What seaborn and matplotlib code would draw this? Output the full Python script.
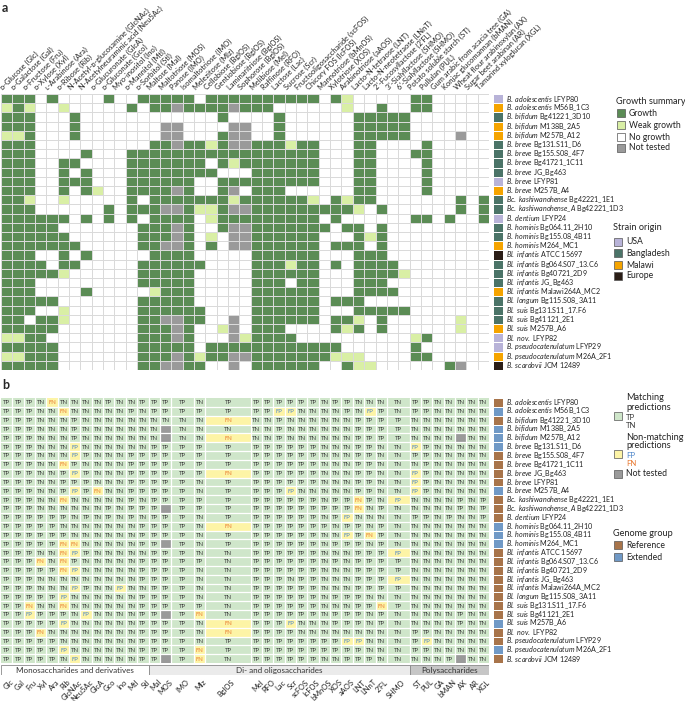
import numpy as np
import pandas as pd
import seaborn as sns
import matplotlib.pyplot as plt
from matplotlib.colors import ListedColormap
from matplotlib.patches import Rectangle

# ---------------- data ----------------
substrates = [
    "ᴅ-Glucose (Glc)", "ᴅ-Galactose (Gal)", "ᴅ-Fructose (Fru)", "ᴅ-Xylose (Xyl)",
    "ʟ-Arabinose (Ara)", "ᴅ-Ribose (Rib)", "N-Acetyl-ᴅ-glucosamine (GlcNAc)",
    "N-Acetylneuraminic acid (Neu5Ac)", "ᴅ-Glucuronate (GlcA)", "ᴅ-Gluconate (Gco)",
    "Myo-inositol (Ino)", "ᴅ-Mannitol (Mtl)", "ᴅ-Sorbitol (Stl)", "Maltose (Mal)",
    "Maltotriose (MOS)", "Panose (IMO)", "Isomaltotriose (IMO)", "Melezitose (Mlz)",
    "Cellobiose (BglOS)", "Gentiobiose (BglOS)", "Laminaritriose (BglOS)",
    "Sophorose (BglOS)", "Melibiose (Mel)", "Raffinose (RFO)", "Lactose (Lac)",
    "Sucrose (Scr)", "Fructooligosaccharide (scFOS)", "Chicory FOS (lcFOS)",
    "Mannotriose (bMnOS)", "Xylotriose (XOS)", "Arabinotriose (aAOS)",
    "Lacto-N-tetraose (LNT)", "Lacto-N-neotetraose (LNnT)", "2'-Fucosyllactose (2'FL)",
    "3'-Sialyllactose (SHMO)", "6'-Sialyllactose (SHMO)", "Potato soluble starch (ST)",
    "Pullulan (PUL)", "Gum arabic from acacia tree (GA)", "Konjac glucomannan (bMAN)",
    "Wheat flour arabinoxylan (AX)", "Sugar beet arabinan (AR)", "Tamarind xyloglucan (XGL)",
]
short_names = ["Glc", "Gal", "Fru", "Xyl", "Ara", "Rib", "GlcNAc", "Neu5Ac", "GlcA", "Gco",
               "Ino", "Mtl", "Stl", "Mal", "MOS", "IMO", "Mlz", "BglOS", "Mel", "RFO", "Lac",
               "Scr", "scFOS", "lcFOS", "bMnOS", "XOS", "aAOS", "LNT", "LNnT", "2'FL", "SHMO",
               "ST", "PUL", "GA", "bMAN", "AX", "AR", "XGL"]
# how many panel-a columns each panel-b column covers
span = [1] * 15 + [2, 1, 4] + [1] * 12 + [2] + [1] * 7
sugar_classes = ["Monosaccharides and derivatives", "Di- and oligosaccharides", "Polysaccharides"]
class_ncols = [13, 23, 7]

species = ["B. adolescentis", "B. adolescentis", "B. bifidum", "B. bifidum", "B. bifidum",
           "B. breve", "B. breve", "B. breve", "B. breve", "B. breve", "B. breve",
           "Bc. kashiwanohense", "Bc. kashiwanohense_A", "B. dentium", "B. hominis",
           "B. hominis", "B. hominis", "Bl. infantis", "Bl. infantis", "Bl. infantis",
           "Bl. infantis", "Bl. infantis", "Bl. longum", "Bl. suis", "Bl. suis", "Bl. suis",
           "Bl. nov.", "B. pseudocatenulatum", "B. pseudocatenulatum", "B. scardovii"]
strain = ["LFYP80", "M56B_1C3", "Bg41221_3D10", "M138B_2A5", "M257B_A12", "Bg131.S11_D6",
          "Bg155.S08_4F7", "Bg41721_1C11", "JG_Bg463", "LFYP81", "M257B_A4", "Bg42221_1E1",
          "Bg42221_1D3", "LFYP24", "Bg064.11_2H10", "Bg155.08_4B11", "M264_MC1", "ATCC 15697",
          "Bg064.S07_13.C6", "Bg40721_2D9", "JG_Bg463", "Malawi264A_MC2", "Bg115.S08_3A11",
          "Bg131.S11_17.F6", "Bg41121_2E1", "M257B_A6", "LFYP82", "LFYP29", "M26A_2F1",
          "JCM 12489"]
origin = ["USA", "Malawi", "Bangladesh", "Malawi", "Malawi", "Bangladesh", "Bangladesh",
          "Bangladesh", "Bangladesh", "USA", "Malawi", "Bangladesh", "Bangladesh", "USA",
          "Bangladesh", "Bangladesh", "Malawi", "Europe", "Bangladesh", "Bangladesh",
          "Bangladesh", "Malawi", "Bangladesh", "Bangladesh", "Bangladesh", "Malawi", "USA",
          "USA", "Malawi", "Europe"]
genome_group = ["Reference", "Extended", "Reference", "Extended", "Extended", "Extended",
                "Reference", "Reference", "Reference", "Reference", "Extended", "Reference",
                "Reference", "Reference", "Extended", "Extended", "Extended", "Reference",
                "Reference", "Reference", "Reference", "Reference", "Reference", "Reference",
                "Reference", "Extended", "Reference", "Reference", "Extended", "Reference"]

# growth summary: G growth, w weak growth, . no growth, x not tested
growth_rows = [
    "GGG.G....G..GGG GG . GGGG GGGGGG.Gw... .. GG.....",
    "wGw..w.....G.GG xG G GGxG GG......w..G .. GG.....",
    "GGG...G........ .. . .G.. ..G......GGG GG .......",
    "GGG...G.......x x. . ..xx ..G......GGG GG .......",
    "wwG...G.......x x. . .Gxx ..G......GGG GG ....x..",
    "GGG..........GG xG G wGxx GGGwGG...GG. .. .G.....",
    "GGG....G...GGGG GG G GGGG GGGGGG...GG. .. GG.....",
    "GGG..GG....GGGG GG G .GwG GGGGGG...GG. .. .G.....",
    "GGG..G.G...GGGG GG G G... GGGGGG...GG. .. .G.....",
    "GGG..GGG...GGGG GG . .GGG GGGGGG...GG. .. .G.....",
    "GGG..G.Gw..GGGG xG . .Gx. GGG......GG. .. .G.....",
    "GGw..w.....G.GG GG G GGwG GGGGGw.GwGG. .. ....G.G",
    "GGG......G.GGGx xG w wGxx GGGGGGGGGw.G .. ....G.G",
    "GGGGGG.G.G.G.GG GG . wGGG GGGGGG.G.... .. GG.G..G",
    "GGGGG.......GGG xG . .Gxx GGGGGGG.GG.G .. .......",
    "GGGGGG......GGG xG . w.xx GGGGGG...GwG .. .......",
    "GGGGGGG.....GGx xG . G.xx GGGGGG.GGG.G .. .......",
    "GGG..G.G.....GG GG . .... GGGGGG...GGG .. .......",
    "GGGG.GG.....GGG GG G .... GGGwGG.G.GGG G. .......",
    "GGGGGw......GGG GG . .... GGGGGG...GGG Gw .......",
    "GGG.........GGG GG . .... GGG.GG...GGG .. .......",
    "GGG....G.....wG GG . .... GGGGGG...GGG G. .......",
    "GGGGG.......GGG GG . .... GGGGGG.GGG.. .. .......",
    "GGG..w......GGG GG G .... GGGGGG...GGG GG .......",
    "GG.GGw......GGx xG G ..x. GGGGGG.GGw.G .. ....w..",
    "GGGGG.......GGG xG . .wx. GGG....GwG.G .. ....w..",
    "wwGG........GGG xG . ..xw GGGG........ .. wG.....",
    "GGGGG.......GGG GG . GGGG GGGGGGGG.... .. G......",
    "wwGGG.......GGG xG w GGxx GGGGGGGwww.. .. GG.....",
    "GGGGG.......GGx xG G ..x. GGGGGG..Gww. .. ...Gx..",
]

# predictions vs observations: P TP, N TN, p FP, n FN, x not tested
pred_rows = [
    "PPPNnNNNNPNNPPP P N P PPPPPPNPPNNN N PPNNNNN",
    "PPPNNnNNNNNPNPP P P P PPppNNNNPNpP N PPNNNNN",
    "PPPNNNPNNNNNNNN N N n NNPNNNNNNPPP P NNNNNNN",
    "PPPNNNPNNNNNNNx N N N NNPNNNNNNPPP P NNNNNNN",
    "PPPNNNPNNNNNNNx N N n NNPNNNNNNPPP P NNNNxNN",
    "PPPNNNpNNNNNNPP P P P PPPPPPNNNPPN N pPNNNNN",
    "PPPNNNpPNNNPPPP P P P PPPPPPNNNPPN N PPNNNNN",
    "PPPNNnPNNNNPPPP P P P PPPPPPNNNPPN N NPNNNNN",
    "PPPNNPpPNNNPPPP P P n PPPPPPNNNPPN N pPNNNNN",
    "PPPNNPPPNNNPPPP P N P PPPPPPNNNPPN N pPNNNNN",
    "PPPNNPpPnNNPPPP P N P PPPpNNNNNPPN N pPNNNNN",
    "PPPNNnNNNNNPNPP P P P PPPPPPNPPnPN p NNNNPNP",
    "PPPNNNNNNPNPPPx P P P PPPPPPPPPnNP N NNNNPNP",
    "PPPPPPNPNPNPNPP P N P PPPPPPNPpNNN N PPNPNNP",
    "PPPPPNNNNNNNPPP P N n PPPPPPPNPPNP N NNNNNNN",
    "PPPPPPNNNNNNPPP P N P PPPPPPNNpPnP N NNNNNNN",
    "PPPPPnnNNNNNPPx P N P PPPPPPNPPPNP N NNNNNNN",
    "PPPNNnpPNNNNNPP P N N PPPPPPNNNPPP p NNNNNNN",
    "PPPnNnPNNNNNPPP P P N PPPPPPNPNPPP P NNNNNNN",
    "PPPPPnpNNNNNPPP P N N PPPPPPNNNPPP P NNNNNNN",
    "PPPNNNNNNNNNPPP P N N PPPNPPNNNPPP p NNNNNNN",
    "PPPNNNpPNNpNNPP P N N PPPPPPNNNPPP P NNNNNNN",
    "PPPPPpNNNNNNPPP P N N PPPPPPNPPPNN N NNNNNNN",
    "PPnNNnNNNNNNPPP P P N PPPPPPNNNPPn P NNNNNNN",
    "PPpPPPNpNNNNPPx P n N PPPPPPNPPPNP N NNNNPNN",
    "PPPPPpNNNNNNPPP P N n PPPpNNNPPPNP N NNNNPNN",
    "PPPnNNNNNNNNPPP P N n PPPPNNNNNNNN N PPNNNNN",
    "PPPPPNNNNNNNPPP P N P PPPPPPPPppNN N PpNNNNN",
    "PPPPPpNNNNNNPPP P n P PPPPPPPPPPNN N PPNNNNN",
    "PPPPPNpNNNNNPPx P n N PPPPPPNNPPPN N NNNPxNN",
]

# ---------------- style ----------------
sns.set_theme(style="white")
plt.rcParams['font.family'] = ['Lato', 'DejaVu Sans']
plt.rcParams['mathtext.fontset'] = 'custom'
plt.rcParams['mathtext.it'] = 'Lato:italic'
plt.rcParams['mathtext.rm'] = 'Lato'

c_growth = {'.': '#ffffff', 'G': '#5b8c55', 'w': '#d9efa5', 'x': '#9a9a9a'}
c_origin = {'USA': '#b8b3d8', 'Bangladesh': '#4b7468', 'Malawi': '#f5a400', 'Europe': '#2b1e17'}
c_group = {'Reference': '#a8744a', 'Extended': '#7099c6'}
c_match = ['#cfe6ca', '#fdf4a6', '#9a9a9a']
txt_col = {'TP': '#3a3a3a', 'TN': '#3a3a3a', 'FP': '#4a84c8', 'FN': '#e8772e'}
code_lbl = {'P': 'TP', 'N': 'TN', 'p': 'FP', 'n': 'FN', 'x': 'NT'}

W, H = 685, 701
fig = plt.figure(figsize=(W / 100, H / 100), dpi=100)


def box(x0, y0, x1, y1):
    return [x0 / W, 1 - y1 / H, (x1 - x0) / W, (y1 - y0) / H]


nrow = len(species)
ncol = len(substrates)
labels = []
for sp, st in zip(species, strain):
    sp_tex = sp.replace(' ', r'\ ').replace('_', r'\_')
    labels.append(f"$\\mathit{{{sp_tex}}}$ {st}")

# ---------------- panel a ----------------
g_order = ['.', 'G', 'w', 'x']
growth = pd.DataFrame([[g_order.index(c) for c in r.replace(' ', '')] for r in growth_rows],
                      index=labels, columns=substrates)

ax_a = fig.add_axes(box(1, 94, 489, 370))
sns.heatmap(growth, cmap=ListedColormap([c_growth[k] for k in g_order]), vmin=-0.5, vmax=3.5,
            cbar=False, linewidths=0.5, linecolor='#dadada', xticklabels=False,
            yticklabels=False, ax=ax_a)
ax_a.set_xlabel('')
ax_a.set_ylabel('')
for j, name in enumerate(substrates):
    ax_a.text(j + 0.25, -0.35, name, rotation=45, rotation_mode='anchor', ha='left',
              va='bottom', fontsize=5.4, color='#222222', clip_on=False)

o_order = list(c_origin.keys())
ax_ao = fig.add_axes(box(493, 94, 503, 370))
sns.heatmap(pd.DataFrame({'o': [o_order.index(o) for o in origin]}),
            cmap=ListedColormap([c_origin[k] for k in o_order]), vmin=-0.5, vmax=3.5,
            cbar=False, linewidths=0.5, linecolor='white', xticklabels=False,
            yticklabels=False, ax=ax_ao)
ax_ao.set_xlabel('')
ax_ao.set_ylabel('')
for i, lab in enumerate(labels):
    ax_ao.text(1.35, i + 0.5, lab, ha='left', va='center', fontsize=5.1, color='#222222',
               clip_on=False)

# ---------------- panel b ----------------
pred = [[code_lbl[c] for c in r.replace(' ', '')] for r in pred_rows]
state = {'TP': 0, 'TN': 0, 'FP': 1, 'FN': 1, 'NT': 2}
expanded = [[state[v] for v, s in zip(r, span) for _ in range(s)] for r in pred]
ax_b = fig.add_axes(box(1, 398, 489, 663))
sns.heatmap(pd.DataFrame(expanded), cmap=ListedColormap(c_match), vmin=-0.5, vmax=2.5,
            cbar=False, linewidths=0, xticklabels=False, yticklabels=False, ax=ax_b)
ax_b.set_xlabel('')
ax_b.set_ylabel('')
edges = np.concatenate([[0], np.cumsum(span)])
for e in edges[1:-1]:
    ax_b.axvline(e, color='white', lw=0.9)
for i in range(1, nrow):
    ax_b.axhline(i, color='white', lw=0.9)
centers = (edges[:-1] + edges[1:]) / 2
for i, r in enumerate(pred):
    for j, v in enumerate(r):
        if v != 'NT':
            ax_b.text(centers[j], i + 0.55, v, ha='center', va='center', fontsize=4.3,
                      color=txt_col[v])

grp_order = list(c_group.keys())
ax_bg = fig.add_axes(box(493, 398, 503, 663))
sns.heatmap(pd.DataFrame({'g': [grp_order.index(g) for g in genome_group]}),
            cmap=ListedColormap([c_group[k] for k in grp_order]), vmin=-0.5, vmax=1.5,
            cbar=False, linewidths=0.5, linecolor='white', xticklabels=False,
            yticklabels=False, ax=ax_bg)
ax_bg.set_xlabel('')
ax_bg.set_ylabel('')
for i, lab in enumerate(labels):
    ax_bg.text(1.35, i + 0.5, lab, ha='left', va='center', fontsize=5.1, color='#222222',
               clip_on=False)

# sugar class bar and short names
ax_c = fig.add_axes(box(1, 665, 489, 675))
ax_c.set_xlim(0, ncol)
ax_c.set_ylim(1, 0)
ax_c.axis('off')
start = 0
for name, n, fc in zip(sugar_classes, class_ncols, ['#ffffff', '#ebebeb', '#c6c6c6']):
    ax_c.add_patch(Rectangle((start, 0), n, 1, facecolor=fc, edgecolor='#8a8a8a', lw=0.6))
    ax_c.text(start + n / 2, 0.55, name, ha='center', va='center', fontsize=5.8, color='#333333')
    start += n
for xc, name in zip(centers, short_names):
    ax_c.text(xc + 0.3, 1.35, name, rotation=45, rotation_mode='anchor', ha='right', va='top',
              fontsize=5.4, color='#222222', clip_on=False)

# ---------------- overlay: panel letters and legends ----------------
ov = fig.add_axes([0, 0, 1, 1])
ov.set_xlim(0, W)
ov.set_ylim(H, 0)
ov.axis('off')
ov.patch.set_alpha(0)
ov.text(2, 8, 'a', fontsize=9, fontweight='bold', va='center')
ov.text(2, 385, 'b', fontsize=9, fontweight='bold', va='center')


def swatch(x, y, color, label, tcolor='#222222'):
    ov.add_patch(Rectangle((x, y - 3.8), 7.6, 7.6, facecolor=color, edgecolor='#555555', lw=0.5))
    if label:
        ov.text(x + 12, y, label, va='center', fontsize=6.2, color=tcolor)


ov.text(616, 101, 'Growth summary', va='center', fontsize=6.6, color='#222222')
for k, lab, y in zip(['G', 'w', '.', 'x'], ['Growth', 'Weak growth', 'No growth', 'Not tested'],
                     [113, 125, 137, 148]):
    swatch(617, y, c_growth[k], lab)
ov.text(613, 228, 'Strain origin', va='center', fontsize=6.6, color='#222222')
for k, y in zip(o_order, [242, 253, 265, 276]):
    swatch(614, y, c_origin[k], k)

ov.text(626, 398, 'Matching', va='center', fontsize=6.6, color='#222222')
ov.text(626, 407, 'predictions', va='center', fontsize=6.6, color='#222222')
swatch(614, 416, c_match[0], None)
ov.text(626, 418, 'TP', va='center', fontsize=5.6, color=txt_col['TP'])
ov.text(626, 426, 'TN', va='center', fontsize=5.6, color=txt_col['TN'])
ov.text(626, 437, 'Non-matching', va='center', fontsize=6.6, color='#222222')
ov.text(626, 446, 'predictions', va='center', fontsize=6.6, color='#222222')
swatch(614, 454, c_match[1], None)
ov.text(626, 455, 'FP', va='center', fontsize=5.6, color=txt_col['FP'])
ov.text(626, 463, 'FN', va='center', fontsize=5.6, color=txt_col['FN'])
swatch(614, 474, c_match[2], None)
ov.text(626, 474, 'Not tested', va='center', fontsize=6.2, color='#222222')

ov.text(613, 533, 'Genome group', va='center', fontsize=6.6, color='#222222')
for k, y in zip(grp_order, [545, 557]):
    swatch(614, y, c_group[k], k)

fig.savefig('out.png', dpi=100)
